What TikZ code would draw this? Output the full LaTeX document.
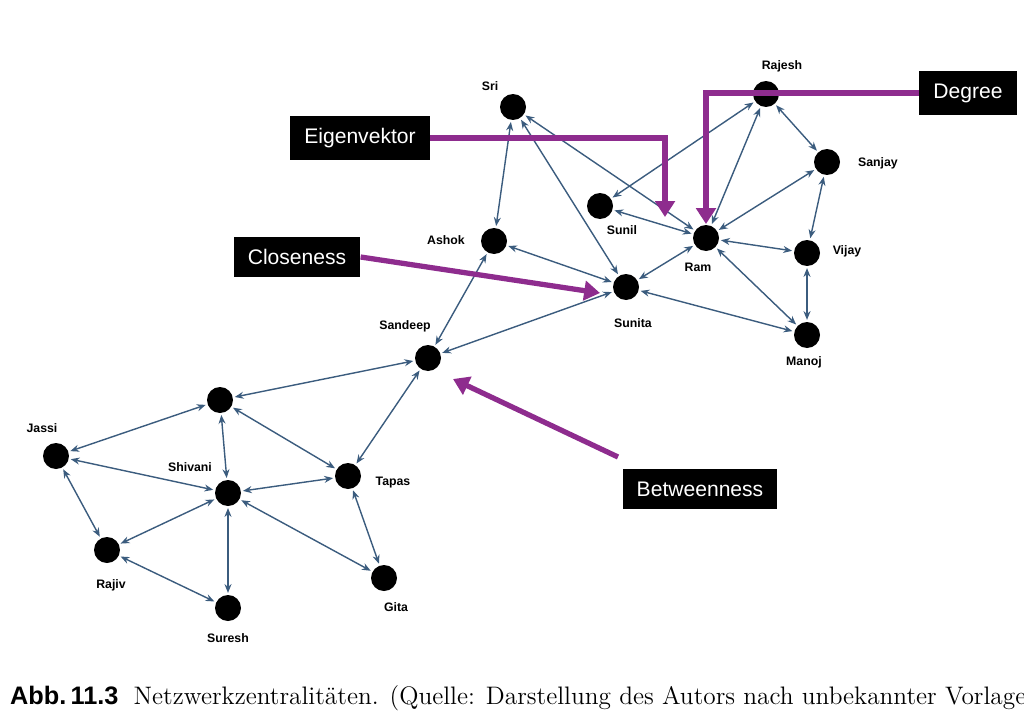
\documentclass[tikz,border=0pt]{standalone}
\usepackage{fontspec}
\setsansfont{Liberation Sans}
\usetikzlibrary{arrows.meta}
\definecolor{edgeblue}{HTML}{3B5C7E}
\definecolor{markpurple}{HTML}{8E2C8E}
\tikzset{
  person/.style={circle, fill=black, minimum size=0.52cm, inner sep=0pt},
  tag/.style={font=\sffamily\bfseries\scriptsize},
  link/.style={<->, >={Stealth[length=5pt,width=4pt]}, edgeblue, thick, shorten >=1pt, shorten <=1pt},
  measure/.style={fill=black, text=white, font=\sffamily\large, inner xsep=8pt, inner ysep=7pt},
  pointer/.style={->, >={Triangle[length=9pt,width=11pt]}, markpurple, line width=3pt}
}
\begin{document}
\begin{tikzpicture}[x=0.02cm, y=-0.02cm]
    \useasboundingbox (0,0) rectangle (1024,720);
    % Nodes
    \node [person] (sri)     at (513,107) {};
    \node [person] (rajesh)  at (766,94)  {};
    \node [person] (sanjay)  at (827,162) {};
    \node [person] (sunil)   at (600,206) {};
    \node [person] (ram)     at (706,238) {};
    \node [person] (vijay)   at (807,253) {};
    \node [person] (ashok)   at (494,241) {};
    \node [person] (sunita)  at (626,287) {};
    \node [person] (manoj)   at (807,335) {};
    \node [person] (sandeep) at (428,358) {};
    \node [person] (hub)     at (220,400) {};
    \node [person] (jassi)   at (56,456)  {};
    \node [person] (shivani) at (228,493) {};
    \node [person] (tapas)   at (348,476) {};
    \node [person] (rajiv)   at (107,550) {};
    \node [person] (suresh)  at (228,608) {};
    \node [person] (gita)    at (384,578) {};

    % Names
    \node [tag] at (490,86)  {Sri};
    \node [tag] at (782,66)  {Rajesh};
    \node [tag] at (878,163) {Sanjay};
    \node [tag] at (622,230) {Sunil};
    \node [tag] at (698,267) {Ram};
    \node [tag] at (847,251) {Vijay};
    \node [tag] at (446,240) {Ashok};
    \node [tag] at (633,323) {Sunita};
    \node [tag] at (804,362) {Manoj};
    \node [tag] at (405,326) {Sandeep};
    \node [tag] at (42,428)  {Jassi};
    \node [tag] at (190,467) {Shivani};
    \node [tag] at (393,483) {Tapas};
    \node [tag] at (111,585) {Rajiv};
    \node [tag] at (228,638) {Suresh};
    \node [tag] at (396,607) {Gita};

    % Links
    \foreach \a/\b in {sri/ashok, sri/sunita, sri/ram, rajesh/sunil, rajesh/ram,
        rajesh/sanjay, sanjay/ram, sanjay/vijay, ram/sunil, ram/vijay, ram/sunita,
        ram/manoj, vijay/manoj, sunita/ashok, sunita/manoj, sunita/sandeep,
        ashok/sandeep, sandeep/hub, sandeep/tapas, hub/jassi, hub/shivani,
        hub/tapas, shivani/jassi, jassi/rajiv, tapas/shivani, shivani/rajiv,
        shivani/suresh, shivani/gita, rajiv/suresh, tapas/gita}
        \draw [link] (\a) -- (\b);

    % Centrality boxes
    \node [measure] (eigen) at (360,138) {Eigenvektor};
    \node [measure] (degree) at (968,93) {Degree};
    \node [measure] (close) at (297,257) {Closeness};
    \node [measure] (between) at (700,489) {Betweenness};
    \coordinate (eigenTip) at (665,217);
    \coordinate (degreeTip) at (706,224);
    \coordinate (closeTip) at (600,293);
    \coordinate (betweenTip) at (453,379);
    \draw [pointer] (eigen.east) -| (eigenTip);
    \draw [pointer] (degree.west) -| (degreeTip);
    \draw [pointer] (close.east) -- (closeTip);
    \draw [pointer] (618,457) -- (betweenTip);

    % Caption
    \node [anchor=west, font=\Large] at (4,698) {\textsf{\bfseries Abb.\,11.3}\hspace{0.6em}Netzwerkzentralitäten. (Quelle: Darstellung des Autors nach unbekannter Vorlage)};
\end{tikzpicture}
\end{document}
